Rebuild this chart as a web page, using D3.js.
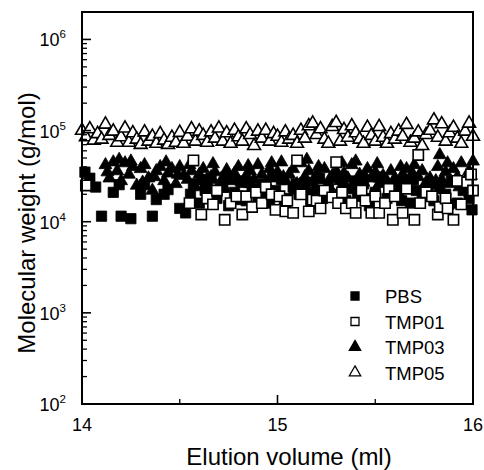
<!DOCTYPE html>
<html><head><meta charset="utf-8">
<script src="https://cdn.jsdelivr.net/npm/d3@7"></script>
<style>body{margin:0;background:#fff}svg{display:block}text{font-family:"Liberation Sans",Arial,sans-serif;fill:#000}</style>
</head><body><svg id="c" width="484" height="470"></svg>
<script>
const seriesNames = ["PBS","TMP01","TMP03","TMP05"];
const xTicks = [14,15,16];
const xMinorTicks = [14.5,15.5];
const yTickExps = [2,3,4,5,6];

const pbs = [[14.015,35000],[14.04,30000],[14.07,24000],[14.10,11500],[14.16,21000],[14.19,25500],[14.20,11500],[14.25,10800],[14.30,20000],[14.32,25500],[14.36,11500],[14.38,17500],[14.42,20000],[14.44,22500],[14.50,14000],[14.53,12500],
[14.555,20000],[14.57,26000],[14.60,16000],[14.615,29000],[14.63,22000],[14.66,30000],[14.675,21000],[14.69,18000],[14.72,24000],[14.735,31000],[14.75,15000],[14.78,21000],[14.795,17500],[14.81,28000],[14.84,17000],[14.855,27000],[14.87,23000],[14.90,19000],[14.915,21000],[14.93,26000],[14.96,16000],[14.975,32000],[14.99,22000],[15.02,29000],[15.035,17000],[15.05,18000],[15.08,24000],[15.095,26000],[15.11,20000],[15.14,27000],[15.155,21000],[15.17,16000],[15.20,22000],[15.215,30000],[15.23,18000],[15.26,25000],[15.275,19000],[15.29,20000],[15.32,30000],[15.335,24000],[15.35,17000],[15.38,23000],[15.395,28000],[15.41,19000],[15.44,26000],[15.455,18000],[15.47,15000],[15.50,21000],[15.515,31000],[15.53,28000],[15.56,18000],[15.575,22000],[15.59,24000],[15.62,20000],[15.635,17000],[15.65,27000],[15.68,16000],[15.695,29000],[15.71,22000],[15.74,19000],[15.755,21000],[15.77,25000],[15.80,17000],[15.815,26000],[15.83,23000],[15.86,20000],[15.875,15500],[15.89,28000],[15.92,16000],[15.935,27000],[15.95,22000],[15.98,18000],[15.995,13500]];

const tmp01 = [[14.02,25000],[14.55,16000],[14.57,47000],[14.61,12000],[14.64,18000],[14.67,15500],[14.69,22000],[14.73,10500],[14.76,16000],[14.79,19000],[14.82,12000],[14.84,19000],[14.87,14500],[14.89,21000],[14.92,16000],[14.94,24000],[14.97,20000],[14.99,13500],[15.01,19000],[15.04,13000],[15.05,17000],[15.10,47000],[15.08,12500],[15.12,20000],[15.16,13000],[15.18,17500],[15.20,17000],[15.22,14000],[15.24,22000],[15.28,18500],[15.30,45000],[15.31,16000],[15.33,21000],[15.35,14000],[15.38,16000],[15.40,12500],[15.43,22000],[15.45,17000],[15.48,12500],[15.50,19000],[15.52,12500],[15.55,16000],[15.57,23000],[15.59,10500],[15.60,19000],[15.64,12500],[15.66,23000],[15.70,10500],[15.72,54000],[15.73,16000],[15.76,21000],[15.79,19000],[15.82,12000],[15.83,14500],[15.86,18000],[15.87,14000],[15.90,10500],[15.92,28000],[15.94,15500],[15.97,27000],[15.99,33000],[16.00,22000]];

const tmp03 = [[14.12,42000],[14.13,35000],[14.14,30000],[14.16,45000],[14.18,36000],[14.19,48000],[14.20,28000],[14.22,44000],[14.24,33000],[14.25,46000],[14.26,40000],[14.28,25000],[14.30,38000],[14.31,27000],[14.32,42000],[14.34,30000],[14.36,22000],[14.37,31000],[14.38,36000],[14.40,40000],[14.42,28000],[14.43,45000],[14.44,34000],[14.46,38000],[14.48,26000],[14.49,33000],[14.50,40000],[14.52,32000],[14.54,29000],[14.55,42000],[14.56,36000],[14.58,24000],[14.60,33000],[14.61,28000],[14.62,38000],[14.64,27000],[14.66,31000],[14.67,43000],[14.68,35000],[14.70,25000],[14.72,30000],[14.73,23000],[14.74,37000],[14.76,28000],[14.78,34000],[14.79,29000],[14.80,40000],[14.82,26000],[14.84,32000],[14.85,41000],[14.86,36000],[14.88,29000],[14.90,42000],[14.91,24000],[14.92,33000],[14.94,27000],[14.96,38000],[14.97,44000],[14.98,30000],[15.00,35000],[15.02,45000],[15.03,31000],[15.04,28000],[15.06,33000],[15.08,38000],[15.09,22000],[15.10,26000],[15.12,44000],[15.14,31000],[15.15,48000],[15.16,36000],[15.18,27000],[15.20,33000],[15.21,40000],[15.22,29000],[15.24,38000],[15.26,25000],[15.27,30000],[15.28,32000],[15.30,36000],[15.32,28000],[15.33,44000],[15.34,34000],[15.36,30000],[15.38,42000],[15.39,23000],[15.40,46000],[15.42,33000],[15.44,27000],[15.45,31000],[15.46,38000],[15.48,30000],[15.50,35000],[15.51,43000],[15.52,26000],[15.54,32000],[15.56,28000],[15.57,22000],[15.58,36000],[15.60,30000],[15.62,24000],[15.63,40000],[15.64,33000],[15.66,38000],[15.68,28000],[15.69,34000],[15.70,42000],[15.72,31000],[15.74,36000],[15.75,23000],[15.76,27000],[15.78,30000],[15.81,28000],[15.82,40000],[15.83,54000],[15.84,29000],[15.86,35000],[15.87,44000],[15.88,26000],[15.90,38000],[15.92,31000],[15.93,24000],[15.94,44000],[15.96,28000],[15.98,36000],[15.99,32000],[16.00,46000]];

const tmp05 = [[14.00,100000],[14.02,85000],[14.04,104000],[14.06,78000],[14.08,92000],[14.10,80000],[14.12,117000],[14.14,88000],[14.16,98000],[14.18,74000],[14.20,85000],[14.22,106000],[14.24,74000],[14.26,94000],[14.28,80000],[14.30,70000],[14.32,96000],[14.34,76000],[14.36,86000],[14.38,72000],[14.40,92000],[14.42,78000],[14.44,70000],[14.46,84000],[14.48,74000],[14.50,95000],[14.52,72000],[14.54,86000],[14.56,104000],[14.58,76000],[14.60,98000],[14.62,88000],[14.64,74000],[14.66,96000],[14.68,82000],[14.70,106000],[14.72,76000],[14.74,94000],[14.76,72000],[14.78,100000],[14.80,85000],[14.82,76000],[14.84,104000],[14.86,90000],[14.88,68000],[14.90,98000],[14.92,82000],[14.94,100000],[14.96,76000],[14.98,92000],[15.00,86000],[15.02,74000],[15.04,96000],[15.06,80000],[15.08,88000],[15.10,72000],[15.12,100000],[15.14,82000],[15.16,112000],[15.18,120000],[15.20,90000],[15.22,104000],[15.24,80000],[15.26,72000],[15.28,110000],[15.30,122000],[15.32,76000],[15.34,102000],[15.36,84000],[15.38,112000],[15.40,94000],[15.42,80000],[15.44,72000],[15.46,108000],[15.48,88000],[15.50,76000],[15.52,110000],[15.54,84000],[15.56,72000],[15.58,92000],[15.60,80000],[15.62,98000],[15.64,86000],[15.66,116000],[15.68,74000],[15.70,82000],[15.72,96000],[15.74,68000],[15.76,90000],[15.78,100000],[15.80,130000],[15.82,84000],[15.84,118000],[15.86,76000],[15.88,94000],[15.90,108000],[15.92,82000],[15.94,72000],[15.96,98000],[15.98,120000],[16.00,86000]];

const svg = d3.select("#c");
const L = 82, R = 473, T = 12, B = 404;
const x = d3.scaleLinear().domain([14,16]).range([L,R]);
const y = d3.scaleLog().domain([100,2e6]).range([B,T]);

const sq = d3.symbol().type(d3.symbolSquare).size(106)();
const tri = d3.symbol().type(d3.symbolTriangle).size(72)();

function draw(data, path, filled){
  svg.append("g").selectAll("path").data(data).join("path")
    .attr("d", path)
    .attr("transform", d => `translate(${x(d[0])},${y(d[1])})`)
    .attr("fill", filled ? "#000" : "#fff")
    .attr("stroke", "#000").attr("stroke-width", filled ? 0.8 : 1.6);
}
draw(pbs, sq, true);
draw(tmp03, tri, true);
draw(tmp01, sq, false);
draw(tmp05, tri, false);

// frame
svg.append("rect").attr("x",L).attr("y",T).attr("width",R-L).attr("height",B-T)
  .attr("fill","none").attr("stroke","#000").attr("stroke-width",2);

// y ticks
const minor = [];
for (let e=2;e<=6;e++) for (let m=2;m<=9;m++){ const v=m*Math.pow(10,e); if (v<=2e6) minor.push(v); }
const gy = svg.append("g");
gy.selectAll("line.mi").data(minor).join("line").attr("x1",L).attr("x2",L+5)
  .attr("y1",d=>y(d)).attr("y2",d=>y(d)).attr("stroke","#000").attr("stroke-width",1.3);
gy.selectAll("line.ma").data(yTickExps).join("line").attr("x1",L).attr("x2",L+9)
  .attr("y1",d=>y(Math.pow(10,d))).attr("y2",d=>y(Math.pow(10,d))).attr("stroke","#000").attr("stroke-width",1.6);
const yl = gy.selectAll("text").data(yTickExps).join("text")
  .attr("x",66).attr("y",d=>y(Math.pow(10,d))+7).attr("text-anchor","end").attr("font-size",18);
yl.append("tspan").text("10");
yl.append("tspan").attr("dy",-8).attr("font-size",11.5).text(d=>d);

// x ticks
const gx = svg.append("g");
gx.selectAll("line.ma").data(xTicks).join("line").attr("x1",d=>x(d)).attr("x2",d=>x(d))
  .attr("y1",B).attr("y2",B-9).attr("stroke","#000").attr("stroke-width",1.6);
gx.selectAll("line.mi").data(xMinorTicks).join("line").attr("x1",d=>x(d)).attr("x2",d=>x(d))
  .attr("y1",B).attr("y2",B-5).attr("stroke","#000").attr("stroke-width",1.3);
gx.selectAll("text").data(xTicks).join("text").attr("x",d=>x(d)).attr("y",431)
  .attr("text-anchor","middle").attr("font-size",18).text(d=>d);

// titles
svg.append("text").attr("x",289).attr("y",465).attr("text-anchor","middle").attr("font-size",24)
  .text("Elution volume (ml)");
svg.append("text").attr("transform","translate(35,223) rotate(-90)").attr("text-anchor","middle")
  .attr("font-size",24).text("Molecular weight (g/mol)");

// legend
const legSym = [[d3.symbolSquare,true],[d3.symbolSquare,false],[d3.symbolTriangle,true],[d3.symbolTriangle,false]];
const lg = svg.append("g");
seriesNames.forEach((n,i)=>{
  const yy = 296 + i*25.5;
  const s = legSym[i];
  lg.append("path").attr("d", d3.symbol().type(s[0]).size(s[0]===d3.symbolSquare?64:56)())
    .attr("transform",`translate(355,${yy})`).attr("fill",s[1]?"#000":"#fff").attr("stroke","#000").attr("stroke-width",1.3);
  lg.append("text").attr("x",385).attr("y",yy+7).attr("font-size",18.5).text(n);
});
</script></body></html>
